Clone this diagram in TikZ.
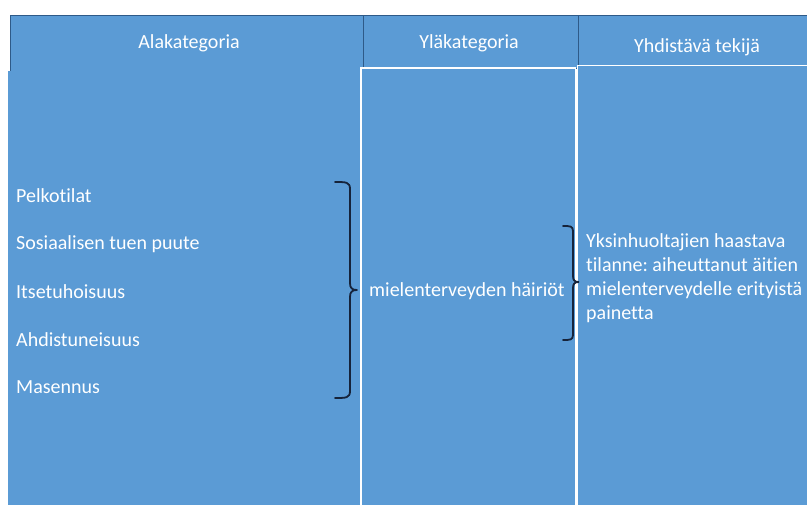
\documentclass[tikz,border=0pt]{standalone}
\usepackage{fontspec}
\setmainfont{Carlito}[Ligatures=NoCommon]
\frenchspacing
\definecolor{cellblue}{HTML}{5B9BD5}
\definecolor{hdrborder}{HTML}{2E5A88}
\definecolor{bracecol}{HTML}{16233A}
\begin{document}
\begin{tikzpicture}[x=1pt,y=-1pt,
  hdr/.style={fill=cellblue,draw=hdrborder,line width=0.9pt},
  bodycell/.style={fill=cellblue,draw=white,line width=1.6pt},
  hdrtext/.style={text=white,font=\fontsize{20}{24}\selectfont,inner sep=0pt},
  itemtext/.style={text=white,font=\fontsize{20}{24}\selectfont,inner sep=0pt,anchor=west},
  bracestyle/.style={draw=bracecol,line width=1.8pt,line join=round,line cap=round}]
\useasboundingbox (0,0) rectangle (807,505);
\fill[white] (0,0) rectangle (807,505);
% headers
\draw[hdr] (10,15) rectangle (363,71);
\draw[hdr] (363,15) rectangle (578,68);
\draw[hdr] (578,15) rectangle (820,66);
% bodies
\fill[cellblue] (8,71) rectangle (361,515);
\draw[bodycell] (361,68) rectangle (575.5,515);
\draw[bodycell] (577.5,65.5) rectangle (820,515);
% header texts
\node[hdrtext] (h1) at (189,43) {Alakategoria};
\node[hdrtext] (h2) at (469,43) {Yläkategoria};
\node[hdrtext] (h3) at (697,47) {Yhdistävä tekijä};
% items
\node[itemtext] (i1) at (16,196) {Pelkotilat};
\node[itemtext] (i2) at (16,244) {Sosiaalisen tuen puute};
\node[itemtext] (i3) at (16,292) {Itsetuhoisuus};
\node[itemtext] (i4) at (16,339.5) {Ahdistuneisuus};
\node[itemtext] (i5) at (16,387) {Masennus};
% middle
\node[itemtext] (m) at (369,291) {mielenterveyden häiriöt};
% right
\node[itemtext,align=left,font=\fontsize{20}{24.2}\selectfont] (r) at (586,278)
  {Yksinhuoltajien haastava\\tilanne: aiheuttanut äitien\\mielenterveydelle erityistä\\painetta};
% braces
\coordinate (b1tip) at (357,290);
\coordinate (b2tip) at (578.5,282);
\draw[bracestyle] (335,182) .. controls (346,182) and (350,182) .. (350,189)
  -- (350,283) .. controls (350,288) and (352,290) .. (b1tip)
  .. controls (352,290) and (350,292) .. (350,297)
  -- (350,391) .. controls (350,398) and (346,398) .. (335,398);
\draw[bracestyle] (563,226) .. controls (570,226) and (573,226) .. (573,231)
  -- (573,276) .. controls (573,280) and (574.5,282) .. (b2tip)
  .. controls (574.5,282) and (573,284) .. (573,288)
  -- (573,335) .. controls (573,340) and (570,340) .. (563,340);
\end{tikzpicture}
\end{document}
